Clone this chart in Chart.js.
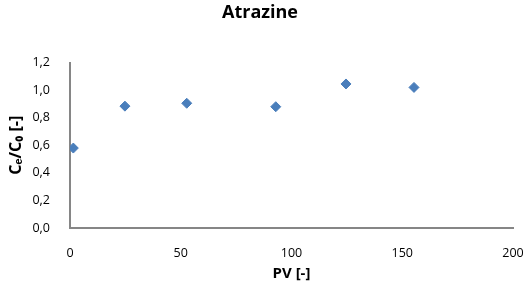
<!DOCTYPE html>
<html>
<head>
<meta charset="utf-8">
<script src="https://cdn.jsdelivr.net/npm/chart.js@4/dist/chart.umd.min.js"></script>
<style>
  html, body { margin: 0; padding: 0; background: #fff; }
  #wrap { width: 526px; height: 300px; }
</style>
</head>
<body>
<div id="wrap"><canvas id="atrazineChart"></canvas></div>
<script>
const pv = [1.5, 24.8, 52.7, 92.9, 124.6, 155.3];
const ratio = [0.58, 0.884, 0.905, 0.88, 1.045, 1.02];
const yTicks = [0, 0.2, 0.4, 0.6, 0.8, 1.0, 1.2];
const xTicks = [0, 50, 100, 150, 200];

const fontFamily = "'Open Sans', 'Liberation Sans', sans-serif";
const axisColor = '#868686';

window.onload = () => {
    const ctx = document.getElementById('atrazineChart');

    const data = {
        datasets: [
            {
                label: 'Atrazine',
                data: pv.map((x, i) => { return { x: x, y: ratio[i] }; }),
                pointStyle: 'rectRot',
                pointRadius: 5,
                pointHoverRadius: 5,
                backgroundColor: '#4a7ebb',
                borderColor: '#4a7ebb',
                borderWidth: 1,
                showLine: false
            }
        ]
    };

    const config = {
        type: 'scatter',
        data: data,
        options: {
            responsive: true,
            maintainAspectRatio: false,
            animation: false,
            layout: {
                padding: { left: 7, right: 13, top: 0, bottom: 0 }
            },
            plugins: {
                legend: { display: false },
                tooltip: { enabled: false },
                title: {
                    display: true,
                    text: 'Atrazine',
                    color: '#000',
                    font: { family: fontFamily, size: 18, weight: 'bold' },
                    padding: { top: 2, bottom: 39 }
                }
            },
            scales: {
                x: {
                    type: 'linear',
                    min: 0,
                    max: 200,
                    afterBuildTicks: (scale) => {
                        scale.ticks = xTicks.map((v) => { return { value: v }; });
                    },
                    afterFit: (scale) => {
                        scale.height = 72;
                        scale.paddingRight = 0;
                        scale.paddingLeft = 0;
                    },
                    grid: { display: false },
                    border: { display: true, color: axisColor, width: 2 },
                    ticks: {
                        color: '#000',
                        padding: 10,
                        maxRotation: 0,
                        font: { family: fontFamily, size: 12.5 }
                    },
                    title: {
                        display: true,
                        text: 'PV [-]',
                        color: '#000',
                        font: { family: fontFamily, size: 15, weight: 'bold' },
                        padding: { top: 4, bottom: 17 }
                    }
                },
                y: {
                    min: 0,
                    max: 1.2,
                    afterBuildTicks: (scale) => {
                        scale.ticks = yTicks.map((v) => { return { value: v }; });
                    },
                    afterFit: (scale) => { scale.width = 63; },
                    grid: { display: false },
                    border: { display: true, color: axisColor, width: 2 },
                    ticks: {
                        color: '#000',
                        padding: 12,
                        font: { family: fontFamily, size: 12.5 },
                        callback: (v) => { return Number(v).toFixed(1).replace('.', ','); }
                    },
                    title: {
                        display: true,
                        text: 'C\u2091/C\u2080 [-]',
                        color: '#000',
                        font: { family: fontFamily, size: 16, weight: 'bold' },
                        padding: { top: 0, bottom: 0 }
                    }
                }
            }
        }
    };

    new Chart(ctx, config);
};
</script>
</body>
</html>
